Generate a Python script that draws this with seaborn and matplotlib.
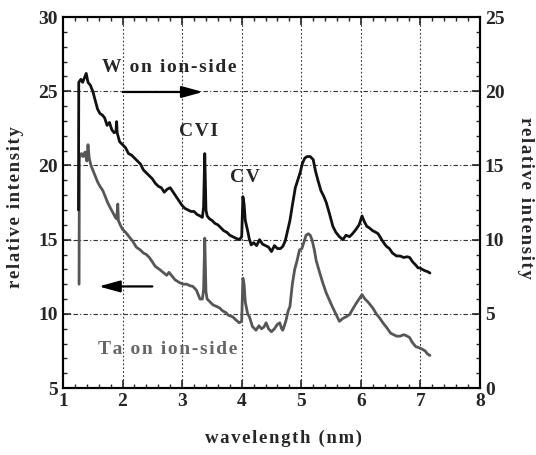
import matplotlib
matplotlib.use("Agg")
import matplotlib.pyplot as plt
import seaborn as sns
from matplotlib.ticker import MultipleLocator

# W on ion-side (right axis, 0-25)
w_x = [1.26, 1.265, 1.30, 1.33, 1.36, 1.39, 1.42, 1.46, 1.50, 1.54, 1.58, 1.62, 1.66, 1.70, 1.74, 1.78,
       1.82, 1.86, 1.89, 1.90, 1.91, 1.95, 2.00, 2.05, 2.10, 2.15, 2.20, 2.25, 2.30, 2.35, 2.40, 2.45,
       2.50, 2.55, 2.60, 2.65, 2.70, 2.75, 2.80, 2.85, 2.90, 2.95, 3.00, 3.05, 3.10, 3.15, 3.20, 3.25,
       3.30, 3.34, 3.36, 3.38, 3.40, 3.42, 3.46, 3.50, 3.55, 3.60, 3.65, 3.70, 3.75, 3.80, 3.85, 3.90,
       3.96, 4.00, 4.02, 4.04, 4.06, 4.10, 4.13, 4.16, 4.20, 4.25, 4.30, 4.35, 4.40, 4.45, 4.50, 4.55,
       4.60, 4.65, 4.69, 4.73, 4.77, 4.81, 4.85, 4.90, 4.94, 4.98, 5.02, 5.06, 5.10, 5.15, 5.20, 5.24,
       5.28, 5.33, 5.38, 5.42, 5.47, 5.53, 5.58, 5.64, 5.70, 5.75, 5.81, 5.86, 5.92, 5.97, 6.02, 6.06,
       6.10, 6.14, 6.20, 6.25, 6.29, 6.35, 6.40, 6.43, 6.48, 6.53, 6.60, 6.66, 6.72, 6.78, 6.82, 6.87,
       6.92, 6.96, 6.99, 7.03, 7.08, 7.12, 7.16]
w_y = [12.0, 20.6, 20.8, 20.6, 20.9, 21.2, 20.6, 20.4, 20.0, 19.4, 18.8, 18.5, 18.4, 18.2, 17.7, 17.9,
       17.4, 17.2, 17.3, 17.95, 17.2, 16.6, 16.4, 16.2, 15.8, 15.7, 15.5, 15.3, 15.1, 14.7, 14.5, 14.3,
       14.1, 13.8, 13.6, 13.5, 13.2, 13.4, 13.5, 13.2, 12.9, 12.6, 12.3, 12.1, 12.0, 11.9, 11.9, 11.7,
       11.6, 11.5, 12.2, 15.8, 12.0, 11.6, 11.4, 11.3, 11.1, 11.0, 10.8, 10.6, 10.5, 10.3, 10.2, 10.1,
       10.0, 10.2, 12.9, 12.4, 11.3, 10.6, 10.0, 9.65, 9.8, 9.6, 10.0, 9.7, 9.6, 9.5, 9.2, 9.6,
       9.4, 9.4, 9.55, 9.9, 10.6, 11.3, 12.3, 13.5, 14.0, 14.5, 15.15, 15.5, 15.6, 15.6, 15.4, 14.6,
       14.0, 13.3, 12.9, 12.5, 11.8, 10.9, 10.5, 10.2, 10.0, 10.3, 10.2, 10.4, 10.7, 11.0, 11.6, 11.2,
       10.9, 10.8, 10.6, 10.5, 10.4, 10.0, 9.7, 9.55, 9.4, 9.1, 8.9, 8.9, 8.8, 8.85, 8.8, 8.5,
       8.3, 8.1, 8.1, 8.0, 7.9, 7.85, 7.75]

# Ta on ion-side (left axis, 5-30)
ta_x = [1.27, 1.275, 1.31, 1.34, 1.37, 1.40, 1.42, 1.44, 1.47, 1.50, 1.54, 1.58, 1.62, 1.67, 1.71, 1.75,
        1.80, 1.84, 1.88, 1.90, 1.92, 1.93, 1.96, 2.00, 2.05, 2.10, 2.17, 2.23, 2.30, 2.35, 2.40, 2.45,
        2.50, 2.55, 2.62, 2.68, 2.74, 2.78, 2.82, 2.88, 2.96, 3.02, 3.08, 3.13, 3.18, 3.24, 3.30, 3.34,
        3.36, 3.38, 3.40, 3.42, 3.47, 3.52, 3.58, 3.63, 3.68, 3.73, 3.78, 3.85, 3.90, 3.96, 4.00, 4.02,
        4.04, 4.06, 4.10, 4.13, 4.18, 4.24, 4.29, 4.33, 4.37, 4.41, 4.45, 4.50, 4.55, 4.60, 4.64, 4.67,
        4.69, 4.74, 4.78, 4.81, 4.85, 4.89, 4.93, 4.97, 5.01, 5.05, 5.08, 5.12, 5.15, 5.18, 5.22, 5.25,
        5.30, 5.36, 5.42, 5.47, 5.52, 5.58, 5.64, 5.70, 5.75, 5.81, 5.86, 5.92, 5.97, 6.02, 6.07, 6.12,
        6.20, 6.26, 6.32, 6.37, 6.43, 6.50, 6.55, 6.60, 6.66, 6.72, 6.78, 6.82, 6.86, 6.92, 6.99, 7.04,
        7.08, 7.12, 7.16]
ta_y = [12.0, 20.5, 20.8, 20.6, 20.9, 20.3, 21.4, 20.5, 20.0, 19.7, 19.3, 18.9, 18.6, 18.3, 17.9, 17.5,
        17.1, 16.8, 16.5, 16.4, 17.4, 16.3, 16.0, 15.7, 15.5, 15.25, 14.9, 14.5, 14.3, 14.1, 14.0, 13.8,
        13.5, 13.2, 13.0, 12.8, 12.6, 12.8, 12.6, 12.3, 12.1, 12.0, 12.0, 11.9, 11.85, 11.6, 11.0, 11.0,
        11.6, 15.1, 11.5, 11.0, 10.8, 10.6, 10.5, 10.4, 10.2, 10.1, 9.9, 9.8, 9.6, 9.4, 9.5, 12.4,
        12.0, 10.8, 10.0, 9.8, 9.15, 8.9, 9.2, 9.0, 9.1, 9.4, 9.0, 8.8, 9.0, 9.3, 9.4, 9.0,
        8.9, 9.5, 10.2, 10.5, 12.0, 13.0, 13.6, 14.3, 14.4, 14.9, 15.3, 15.4, 15.3, 15.0, 14.3, 13.6,
        12.9, 12.1, 11.4, 10.95, 10.5, 10.0, 9.5, 9.7, 9.8, 9.95, 10.3, 10.7, 11.0, 11.3, 11.0, 10.8,
        10.4, 10.0, 9.7, 9.4, 9.1, 8.7, 8.6, 8.5, 8.5, 8.6, 8.5, 8.4, 8.1, 7.8, 7.7, 7.6,
        7.5, 7.3, 7.2]

x_ticks = [1, 2, 3, 4, 5, 6, 7, 8]
left_ticks = [5, 10, 15, 20, 25, 30]
right_ticks = [0, 5, 10, 15, 20, 25]


def spaced(s):
    # loose letter spacing like the original figure
    return '\u200a'.join(s)


sns.set_style("ticks")
plt.rcParams['font.family'] = ['Liberation Serif', 'DejaVu Serif']
plt.rcParams['font.weight'] = 'bold'
plt.rcParams['axes.labelweight'] = 'bold'

fig = plt.figure(figsize=(5.36, 4.55), dpi=100)
ax = fig.add_axes([0.1175, 0.147, 0.778, 0.8156])
ax2 = ax.twinx()

sns.lineplot(x=ta_x, y=ta_y, ax=ax, color='#565656', linewidth=2.0, sort=False, estimator=None)
sns.lineplot(x=w_x, y=w_y, ax=ax2, color='#111111', linewidth=2.0, sort=False, estimator=None)

ax.set_xlim(1, 8)
ax.set_ylim(5, 30)
ax2.set_ylim(0, 25)
ax.set_xticks(x_ticks)
ax.set_yticks(left_ticks)
ax2.set_yticks(right_ticks)
ax.xaxis.set_minor_locator(MultipleLocator(0.2))
ax.yaxis.set_minor_locator(MultipleLocator(1))
ax2.yaxis.set_minor_locator(MultipleLocator(1))

for a in (ax, ax2):
    a.tick_params(which='major', direction='in', length=6, width=1.2, labelsize=14)
    a.tick_params(which='minor', direction='in', length=3, width=1.0)
    for s in a.spines.values():
        s.set_linewidth(1.5)
        s.set_color('black')
ax.tick_params(which='both', top=True, right=False)
ax2.tick_params(which='both', left=False, right=True)

# grid at inner major ticks
for gx in x_ticks[1:-1]:
    ax.axvline(gx, color='#333333', linestyle=(0, (1.5, 2)), linewidth=0.8, zorder=0)
for gy in left_ticks[1:-1]:
    ax.axhline(gy, color='#333333', linestyle=(0, (4, 2, 1, 2)), linewidth=0.8, zorder=0)

ax.set_xlabel(spaced('wavelength (nm)'), fontsize=13.5)
ax.xaxis.set_label_coords(0.529, -0.135)
ax.xaxis.label.set_va('center')
ax.set_ylabel(spaced('relative intensity'), fontsize=13.5)
ax.yaxis.set_label_coords(-0.115, 0.488)
ax.yaxis.label.set_va('center')
ax2.set_ylabel(spaced('relative intensity'), fontsize=13.5, rotation=270)
ax2.yaxis.set_label_coords(1.108, 0.512)
ax2.yaxis.label.set_va('center')

ax.text(2.79, 26.6, spaced('W on ion-side'), fontsize=14, ha='center', va='center')
ax.text(2.76, 7.6, spaced('Ta on ion-side'), fontsize=14, ha='center', va='center', color='#666666')
ax.text(3.28, 22.3, spaced('CVI'), fontsize=14, ha='center', va='center')
ax.text(4.05, 19.2, spaced('CV'), fontsize=14, ha='center', va='center')
arrow = dict(arrowstyle='-|>,head_length=0.8,head_width=0.22', color='black', lw=1.6,
             mutation_scale=16, shrinkA=0, shrinkB=0)
ax.annotate('', xy=(3.35, 24.95), xytext=(2.0, 24.95), arrowprops=arrow)
ax.annotate('', xy=(1.6, 11.85), xytext=(2.5, 11.85), arrowprops=arrow)

fig.savefig('out.png', dpi=100)
